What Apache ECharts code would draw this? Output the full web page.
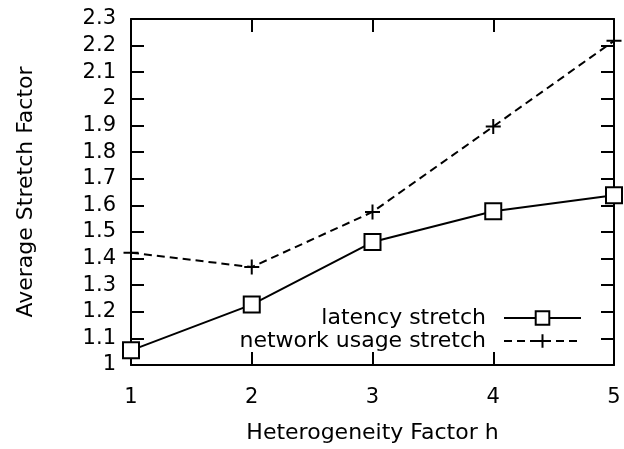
<!DOCTYPE html>
<html><head><meta charset="utf-8">
<script src="https://cdn.jsdelivr.net/npm/echarts@6/dist/echarts.min.js"></script>
<style>html,body{margin:0;padding:0;background:#fff}#c{width:624px;height:449px}</style>
</head><body><div id="c"></div>
<script>
var hFactors = [1, 2, 3, 4, 5];
var latencyStretch = [1.055, 1.227, 1.462, 1.578, 1.638];
var networkStretch = [1.422, 1.368, 1.575, 1.896, 2.218];
var seriesNames = ['latency stretch', 'network usage stretch'];
var xTitle = 'Heterogeneity Factor h';
var yTitle = 'Average Stretch Factor';

var FONT = '"DejaVu Sans", sans-serif';
var chart = echarts.init(document.getElementById('c'), null, {renderer: 'canvas'});
function pairs(ys) { return hFactors.map(function (x, i) { return [x, ys[i]]; }); }
var plusPath = 'path://M0,-10L0,10M-10,0L10,0';
var txt = {color: '#000', fontFamily: FONT, fontSize: 22};
var tickTxt = {color: '#000', fontFamily: FONT, fontSize: 21};
function xAx(pos, show) {
  return {type: 'value', position: pos, min: 1, max: 5, interval: 1,
    axisLine: {show: true, lineStyle: {color: '#000', width: 2}},
    axisTick: {show: true, inside: true, length: 13, lineStyle: {color: '#000', width: 2}},
    splitLine: {show: false},
    axisLabel: Object.assign({show: show, margin: 22}, tickTxt),
    name: show ? xTitle : '', nameLocation: 'middle', nameGap: 57, nameTextStyle: txt};
}
function yAx(pos, show) {
  return {type: 'value', position: pos, min: 1, max: 2.3, interval: 0.1,
    axisLine: {show: true, lineStyle: {color: '#000', width: 2}},
    axisTick: {show: true, inside: true, length: 13, lineStyle: {color: '#000', width: 2}},
    splitLine: {show: false},
    axisLabel: Object.assign({show: show, margin: 15, formatter: function (v) { return String(parseFloat(v.toFixed(1))); }}, tickTxt),
    name: show ? yTitle : '', nameLocation: 'middle', nameGap: 94, nameTextStyle: txt};
}
chart.setOption({
  animation: false,
  backgroundColor: '#fff',
  grid: {left: 131, right: 10, top: 19, bottom: 79},
  xAxis: [xAx('bottom', true), xAx('top', false)],
  yAxis: [yAx('left', true), yAx('right', false)],
  legend: {
    orient: 'vertical', right: 42, top: 307, align: 'right', padding: 0,
    itemWidth: 77, itemHeight: 17, itemGap: 1,
    textStyle: Object.assign({padding: [0, 13, 0, 0], lineHeight: 22}, txt),
    data: seriesNames
  },
  series: [
    {name: seriesNames[0], type: 'line', data: pairs(latencyStretch),
      symbol: 'rect', symbolSize: 16,
      itemStyle: {color: '#fff', borderColor: '#000', borderWidth: 2},
      lineStyle: {color: '#000', width: 2, type: 'solid'}, z: 3},
    {name: seriesNames[1], type: 'line', data: pairs(networkStretch),
      symbol: plusPath, symbolSize: 15,
      itemStyle: {color: 'none', borderColor: '#000', borderWidth: 2},
      lineStyle: {color: '#000', width: 2, type: [8, 5]}, z: 2}
  ]
});
</script></body></html>
